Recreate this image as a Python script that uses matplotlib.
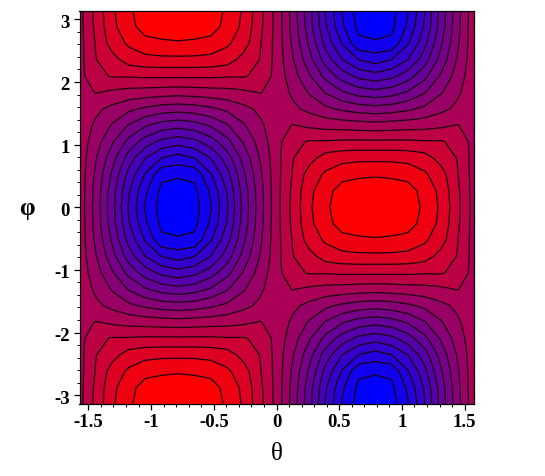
import numpy as np
import matplotlib
matplotlib.use("Agg")
import matplotlib.pyplot as plt
from matplotlib.colors import LinearSegmentedColormap
from matplotlib.transforms import ScaledTranslation

# grid of the plot, 25 x 25 samples
theta = np.linspace(-np.pi / 2, np.pi / 2, 25)
phi = np.linspace(-np.pi, np.pi, 25)

# field, 0 = full blue, 1 = full red
# one row per phi (bottom to top), one column per theta (left to right)
field = [
    [.665,.77,.865,.925,.975,.995,1.0,.995,.975,.925,.865,.77,.665,.535,.395,.243,.12,.035,0,.035,.12,.243,.395,.535,.665],
    [.665,.765,.86,.915,.965,.975,.98,.975,.965,.915,.86,.765,.665,.539,.403,.256,.136,.047,.02,.047,.136,.256,.403,.539,.665],
    [.665,.755,.84,.885,.915,.925,.93,.925,.915,.885,.84,.755,.665,.55,.426,.291,.182,.078,.075,.078,.182,.291,.426,.55,.665],
    [.665,.748,.79,.84,.855,.86,.86,.86,.855,.84,.79,.748,.665,.566,.46,.345,.251,.187,.16,.187,.251,.345,.46,.566,.665],
    [.665,.735,.755,.755,.76,.76,.76,.76,.76,.755,.755,.735,.665,.589,.507,.418,.346,.296,.275,.296,.346,.418,.507,.589,.665],
    [.665,.69,.675,.665,.66,.655,.65,.655,.66,.665,.675,.69,.665,.613,.556,.495,.445,.411,.397,.411,.445,.495,.556,.613,.665],
    [.665,.638,.608,.576,.551,.533,.525,.533,.551,.576,.608,.638,.665,.638,.608,.576,.551,.533,.525,.533,.551,.576,.608,.638,.665],
    [.665,.613,.556,.495,.445,.411,.397,.411,.445,.495,.556,.613,.665,.69,.675,.665,.66,.655,.65,.655,.66,.665,.675,.69,.665],
    [.665,.589,.507,.418,.346,.296,.275,.296,.346,.418,.507,.589,.665,.735,.755,.755,.76,.76,.76,.76,.76,.755,.755,.735,.665],
    [.665,.566,.46,.345,.251,.187,.16,.187,.251,.345,.46,.566,.665,.748,.79,.84,.855,.86,.86,.86,.855,.84,.79,.748,.665],
    [.665,.55,.426,.291,.182,.078,.075,.078,.182,.291,.426,.55,.665,.755,.84,.885,.915,.925,.93,.925,.915,.885,.84,.755,.665],
    [.665,.539,.403,.256,.136,.047,.02,.047,.136,.256,.403,.539,.665,.765,.86,.915,.965,.975,.98,.975,.965,.915,.86,.765,.665],
    [.665,.535,.395,.243,.12,.035,0,.035,.12,.243,.395,.535,.665,.77,.865,.925,.975,.995,1.0,.995,.975,.925,.865,.77,.665],
    [.665,.539,.403,.256,.136,.047,.02,.047,.136,.256,.403,.539,.665,.765,.86,.915,.965,.975,.98,.975,.965,.915,.86,.765,.665],
    [.665,.55,.426,.291,.182,.078,.075,.078,.182,.291,.426,.55,.665,.755,.84,.885,.915,.925,.93,.925,.915,.885,.84,.755,.665],
    [.665,.566,.46,.345,.251,.187,.16,.187,.251,.345,.46,.566,.665,.748,.79,.84,.855,.86,.86,.86,.855,.84,.79,.748,.665],
    [.665,.589,.507,.418,.346,.296,.275,.296,.346,.418,.507,.589,.665,.735,.755,.755,.76,.76,.76,.76,.76,.755,.755,.735,.665],
    [.665,.613,.556,.495,.445,.411,.397,.411,.445,.495,.556,.613,.665,.69,.675,.665,.66,.655,.65,.655,.66,.665,.675,.69,.665],
    [.665,.638,.608,.576,.551,.533,.525,.533,.551,.576,.608,.638,.665,.638,.608,.576,.551,.533,.525,.533,.551,.576,.608,.638,.665],
    [.665,.69,.675,.665,.66,.655,.65,.655,.66,.665,.675,.69,.665,.613,.556,.495,.445,.411,.397,.411,.445,.495,.556,.613,.665],
    [.665,.735,.755,.755,.76,.76,.76,.76,.76,.755,.755,.735,.665,.589,.507,.418,.346,.296,.275,.296,.346,.418,.507,.589,.665],
    [.665,.748,.79,.84,.855,.86,.86,.86,.855,.84,.79,.748,.665,.566,.46,.345,.251,.187,.16,.187,.251,.345,.46,.566,.665],
    [.665,.755,.84,.885,.915,.925,.93,.925,.915,.885,.84,.755,.665,.55,.426,.291,.182,.078,.075,.078,.182,.291,.426,.55,.665],
    [.665,.765,.86,.915,.965,.975,.98,.975,.965,.915,.86,.765,.665,.539,.403,.256,.136,.047,.02,.047,.136,.256,.403,.539,.665],
    [.665,.77,.865,.925,.975,.995,1.0,.995,.975,.925,.865,.77,.665,.535,.395,.243,.12,.035,0,.035,.12,.243,.395,.535,.665],
]

# 15 contour values, 16 flat colour bands
line_levels = [.0625, .125, .1875, .25, .3125, .375, .4375, .5, .5625,
               .625, .6875, .75, .8125, .875, .9375]
x_ticks = [-1.5, -1, -0.5, 0, 0.5, 1, 1.5]
x_labels = ["-1.5", "-1", "-0.5", "0", "0.5", "1", "1.5"]
y_ticks = [-3, -2, -1, 0, 1, 2, 3]
y_labels = ["-3", "-2", "-1", "0", "1", "2", "3"]

plt.rcParams["font.family"] = ["Liberation Serif", "DejaVu Serif"]

fig = plt.figure(figsize=(5.45, 4.76), dpi=100)
ax = fig.add_axes([79.5 / 545, 1 - 404 / 476, 394 / 545, 393.5 / 476])

band_cmap = LinearSegmentedColormap.from_list("blue_red", ["#0000ff", "#ff0000"], N=16)
band_colors = [band_cmap(i) for i in range(16)]
band_levels = [-0.01] + line_levels + [1.01]

ax.contourf(theta, phi, field, levels=band_levels, colors=band_colors, antialiased=False)
ax.contour(theta, phi, field, levels=line_levels, colors="#1a0010", linewidths=0.9)

ax.set_xlim(-np.pi / 2, np.pi / 2)
ax.set_ylim(-np.pi, np.pi)
ax.set_xticks(x_ticks)
ax.set_xticklabels(x_labels, fontsize=13.5, fontweight="bold")
ax.set_yticks(y_ticks)
ax.set_yticklabels(y_labels, fontsize=13.5, fontweight="bold")
ax.set_xticks(np.arange(-1.5, 1.51, 0.1), minor=True)
ax.set_yticks(np.arange(-3, 3.01, 0.2), minor=True)
ax.tick_params(which="major", length=4, width=0.9, pad=3)
ax.tick_params(which="minor", length=2.2, width=0.7)

# labels sit a little below their ticks on the y axis
shift = ScaledTranslation(0, -0.02, fig.dpi_scale_trans)
for lbl in ax.get_yticklabels():
    lbl.set_transform(lbl.get_transform() + shift)

for s in ax.spines.values():
    s.set_linewidth(0.9)

fig.text(277 / 545, 1 - 454 / 476, "θ", fontsize=18, ha="center", va="center")
fig.text(27 / 545, 1 - 208 / 476, "φ", fontsize=18, fontweight="bold", ha="center", va="center")

fig.savefig("out.png", dpi=100)
